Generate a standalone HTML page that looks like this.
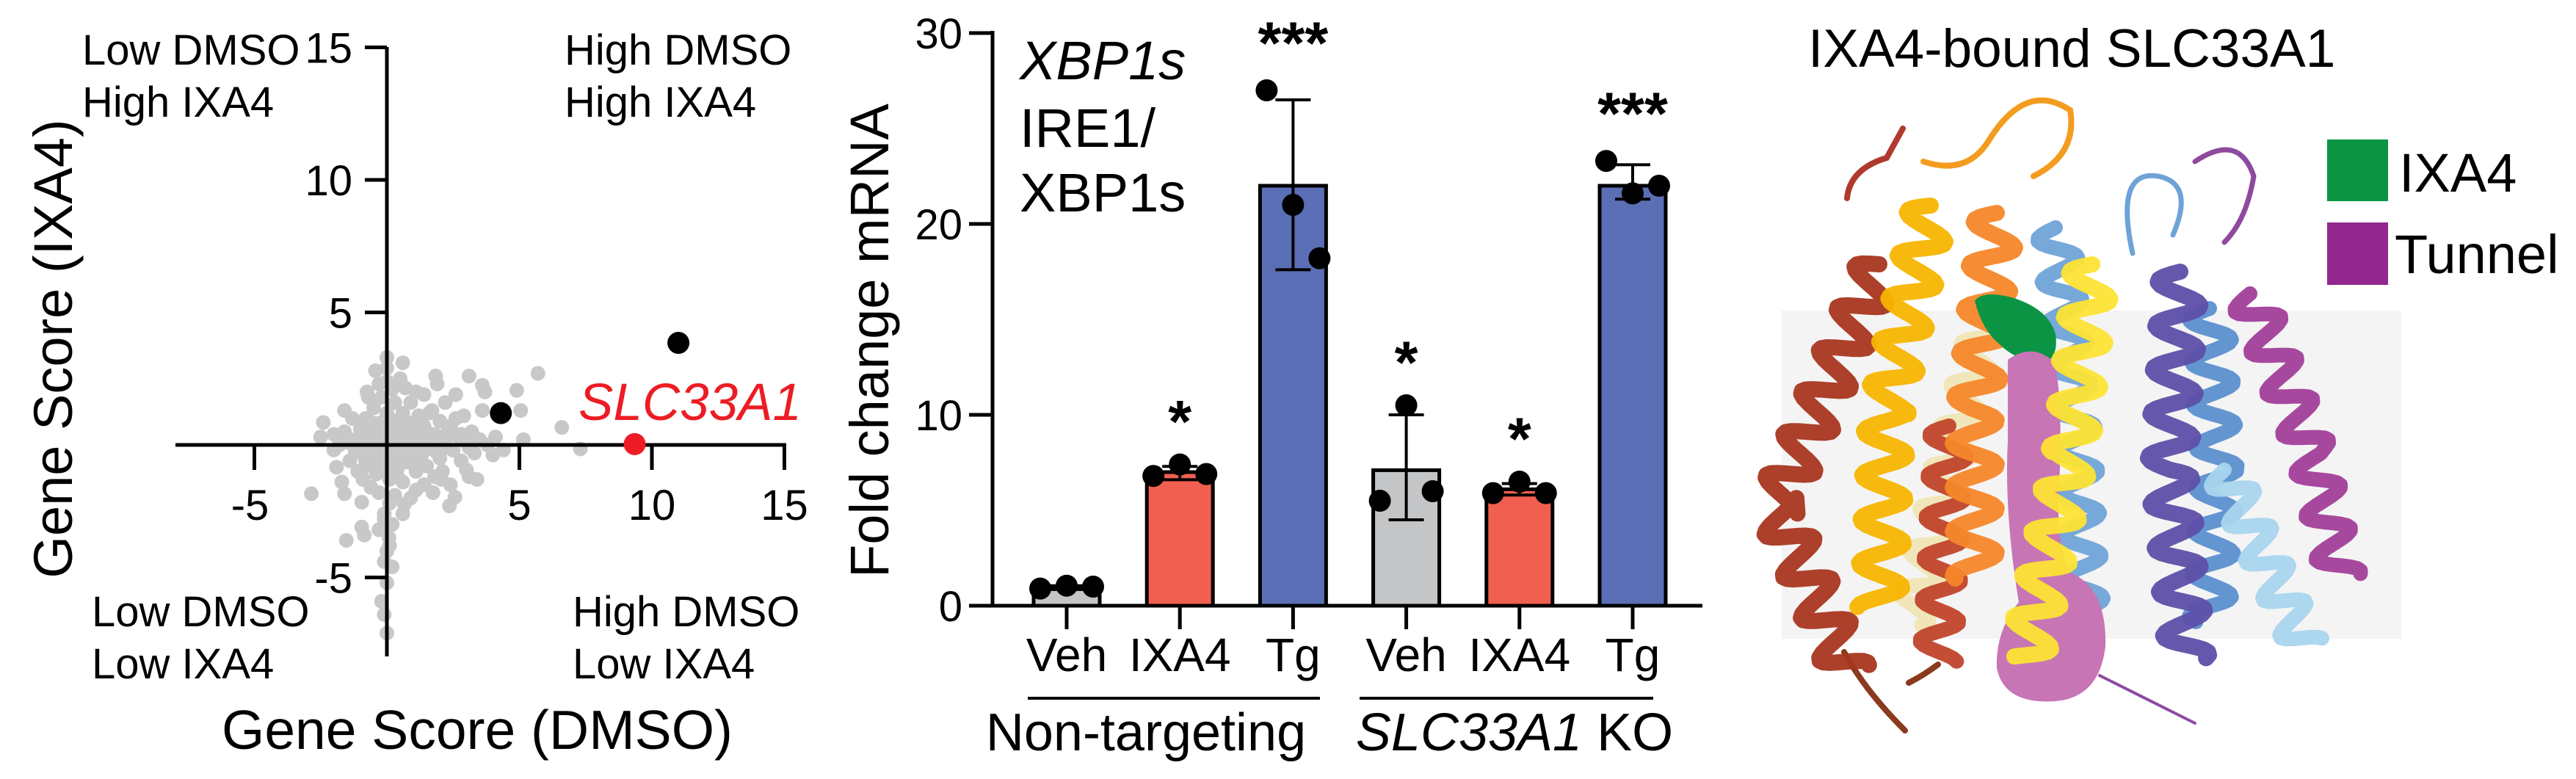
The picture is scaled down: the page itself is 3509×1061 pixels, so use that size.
<!DOCTYPE html>
<html><head><meta charset="utf-8"><style>
html,body{margin:0;padding:0;background:#fff;}
svg{display:block;font-family:"Liberation Sans",sans-serif;}
</style></head><body>
<svg id="fig" width="3509" height="1061" viewBox="0 0 3509 1061" xmlns="http://www.w3.org/2000/svg">
<g id="scatter"></g>
<g id="bars"></g>
<g id="protein"></g>
</svg>
<script>
// ---------- Scatter data ----------
const greyDmso = [-1.2,-1.0,-1.0,-0.8,-0.8,-0.6,-0.6,-0.5,-0.4,-0.4,-0.3,-0.2,-0.2,-0.1,0,0,0,0.1,0.2,0.2,0.3,0.3,0.4,0.4,0.5,0.5,0.6,0.6,0.7,0.8,0.8,0.9,1.0,1.0,1.1,1.2,1.3,1.3,1.4,1.5,1.6,1.7,1.8,1.9,2.0,2.1,2.2,2.3,2.5,2.6,2.7,2.8,3.0,3.2,3.3,3.5,3.8,4.1,-1.4,-1.6,-1.8,-2.0,-1.3,-0.9,-0.3,0.1,0.3,-0.1,0.2,-0.3,0.1,-0.1,0.2,0.6,0.9,1.4,1.8,2.4,-0.6,-1.1,0.0,0.2,-0.3,0.5,1.1,1.4,2.2,2.9,-0.7,0.7,1.5,-0.5,0.0,0.3,0.9,-0.2,1.2,2.0,
0,0.6,-0.43,1.84,3.1,5.7,3.6,3.7,4.9,1.9,-0.75,0.7,2.6,3.6,5.05,-1.6,-2.4,6.6,7.3,5.15,-2.5,-2.85,-1.7,-1.6,-0.95,-1.53,-0.95,-0.85,-0.1,0,0.08,0,-0.2,-0.1,0,0.66,1.1,1.74,2.36,2.57,3.1,3.4,4.0,4.4,3.0,2.05,-1.9,-2.0,
-0.9,-0.7,-0.5,-0.3,-0.1,0.1,0.3,0.5,0.7,0.9,1.1,1.3,1.5,1.7,-0.9,-0.7,-0.5,-0.3,-0.1,0.1,0.3,0.5,0.7,0.9,1.1,1.3,1.5,1.7,1.9,2.1,-0.8,-0.6,-0.4,-0.2,0.0,0.2,0.4,0.6,0.8,1.0,1.2,-0.6,-0.2,0.2,0.6,1.0,1.6,2.4,2.8,3.1,-1.5,-1.2,0.1,0.4];
const greyIxa4 = [0.2,0.6,-0.3,1.0,-0.8,0.3,-0.4,1.4,0.8,-1.1,0.1,-0.6,1.8,0.5,-0.2,1.2,2.4,-1.3,0.3,-0.5,0.9,1.6,-0.9,0.0,0.6,-0.3,1.2,-1.4,0.2,-0.6,0.8,1.6,-0.1,0.4,-1.0,1.1,-0.4,0.2,0.7,-0.8,0.0,1.3,0.4,-0.3,0.9,-1.0,0.1,0.5,-0.2,1.0,0.3,-0.6,0.1,0.5,-0.3,0.2,0.0,0.3,-0.6,0.5,0.0,0.4,1.0,-1.3,-1.8,-2.2,-1.9,-2.6,-3.0,-3.2,-3.8,-4.4,-4.6,-2.6,-2.0,-1.5,-1.2,-1.5,-1.6,-1.0,2.9,2.1,2.3,2.5,2.0,1.9,1.6,1.1,1.8,-0.1,0.5,-0.1,0.0,0.4,-0.4,0.3,-0.7,-0.5,
3.3,3.1,2.8,2.6,2.6,2.7,2.25,2.0,2.06,2.3,2.0,2.15,1.9,1.3,1.3,1.3,0.85,0.66,-0.15,0.2,0.3,-1.84,-1.4,-1.84,-2.16,-3.6,-3.1,-3.4,-2.8,-4.0,-3.5,-5.2,-5.9,-6.4,-7.1,-2.25,-1.7,-1.8,-2.3,-1.97,-1.2,-1.3,-0.38,-0.19,-0.94,-1.3,-0.84,-0.19,
0.35,0.35,0.35,0.35,0.35,0.35,0.35,0.35,0.35,0.35,0.35,0.35,0.35,0.35,-0.15,-0.15,-0.15,-0.15,-0.15,-0.15,-0.15,-0.15,-0.15,-0.15,-0.15,-0.15,-0.15,-0.15,-0.15,-0.15,-0.65,-0.65,-0.65,-0.65,-0.65,-0.65,-0.65,-0.65,-0.65,-0.65,-0.65,0.85,0.85,0.85,0.85,0.85,1.2,0.7,0.4,-0.1,0.1,-0.2,-1.0,-1.2];
const hitDmso = [11.0, 4.3];
const hitIxa4 = [3.85, 1.2];
const geneDmso = [9.35];
const geneIxa4 = [0.03];
const sxTicks = [-5, 5, 10, 15];
const syTicks = [15, 10, 5, -5];

// ---------- Bar data ----------
const categories = ["Veh","IXA4","Tg","Veh","IXA4","Tg"];
const barMeans = [1.0, 7.0, 22.0, 7.1, 6.1, 22.0];
const errLow = [0.85, 6.6, 17.6, 4.5, 5.8, 21.3];
const errHigh = [1.05, 7.3, 26.5, 10.0, 6.4, 23.1];
const rep1 = [0.9, 6.8, 27.0, 5.5, 5.9, 23.3];
const rep2 = [1.05, 7.4, 21.0, 10.5, 6.5, 21.6];
const rep3 = [1.0, 6.9, 18.2, 6.0, 5.9, 22.0];
const stars = ["", "*", "***", "*", "*", "***"];
const barTicks = [0, 10, 20, 30];

const NS = "http://www.w3.org/2000/svg";
function mk(parent, tag, attrs, text){
  const e = document.createElementNS(NS, tag);
  for (const k in attrs) e.setAttribute(k, attrs[k]);
  if (text !== undefined) e.textContent = text;
  parent.appendChild(e);
  return e;
}

// ===== Scatter =====
(function(){
  const g = document.getElementById('scatter');
  const x0 = 527, y0 = 606, ux = 36.1, uy = 36.1;
  const sx = v => x0 + v*ux, sy = v => y0 - v*uy;
  for (let i=0;i<greyDmso.length;i++){
    const c = mk(g,'circle',{cx:sx(greyDmso[i]),cy:sy(greyIxa4[i]),r:10,fill:'#c8c8c8'});
    
    
  }
  const ax = mk(g,'line',{x1:527,y1:64,x2:527,y2:894,stroke:'#000','stroke-width':5});
   
  const ax2 = mk(g,'line',{x1:239,y1:606,x2:1071,y2:606,stroke:'#000','stroke-width':5});
   
  sxTicks.forEach(t=>{
    mk(g,'line',{x1:sx(t),y1:606,x2:sx(t),y2:640,stroke:'#000','stroke-width':5});
    const tl = mk(g,'text',{x:sx(t)+(t<0?-6:0),y:708,'font-size':58,'text-anchor':'middle'},String(t));
     
  });
  syTicks.forEach(t=>{
    mk(g,'line',{x1:497,y1:sy(t),x2:527,y2:sy(t),stroke:'#000','stroke-width':5});
    const tl = mk(g,'text',{x:480,y:sy(t)+21,'font-size':58,'text-anchor':'end'},String(t));
     
  });
  for (let i=0;i<hitDmso.length;i++){
    const c = mk(g,'circle',{cx:sx(hitDmso[i]),cy:sy(hitIxa4[i]),r:15,fill:'#000'});
     
  }
  for (let i=0;i<geneDmso.length;i++){
    const c = mk(g,'circle',{cx:sx(geneDmso[i]),cy:sy(geneIxa4[i]),r:15,fill:'#ed1c24'});
     
  }
  const lab = mk(g,'text',{x:788,y:572,'font-size':71,'font-style':'italic',fill:'#ed1c24'},'SLC33A1');
   
  const q = [[112,88,'Low DMSO'],[112,159,'High IXA4'],[769,88,'High DMSO'],[769,159,'High IXA4'],
             [125,853,'Low DMSO'],[125,924,'Low IXA4'],[780,853,'High DMSO'],[780,924,'Low IXA4']];
  q.forEach(a=>{
    const t = mk(g,'text',{x:a[0],y:a[1],'font-size':58},a[2]);
     
  });
  const xt = mk(g,'text',{x:650,y:1020,'font-size':75,'text-anchor':'middle'},'Gene Score (DMSO)');
   
  const yt = mk(g,'text',{x:0,y:0,'font-size':74,'text-anchor':'middle',transform:'translate(98,475) rotate(-90)'},'Gene Score (IXA4)');
   
})();

// ===== Bars =====
(function(){
  const g = document.getElementById('bars');
  const y0 = 825, uy = 26.0;
  const sy = v => y0 - v*uy;
  const sx = i => 1453 + i*154.2;
  const colors = ['#c4c5c7','#f05f4f','#5a6fb5','#c4c5c7','#f05f4f','#5a6fb5'];
  const bw = 90;
  categories.forEach((c,i)=>{
    const b = mk(g,'rect',{x:sx(i)-bw/2,y:sy(barMeans[i]),width:bw,height:y0-sy(barMeans[i]),fill:colors[i],stroke:'#000','stroke-width':5});
    
    
  });
  categories.forEach((c,i)=>{
    const x = sx(i);
    mk(g,'line',{x1:x,y1:sy(errLow[i]),x2:x,y2:sy(errHigh[i]),stroke:'#000','stroke-width':4});
    mk(g,'line',{x1:x-24,y1:sy(errLow[i]),x2:x+24,y2:sy(errLow[i]),stroke:'#000','stroke-width':4});
    mk(g,'line',{x1:x-24,y1:sy(errHigh[i]),x2:x+24,y2:sy(errHigh[i]),stroke:'#000','stroke-width':4});
    [[rep1,-36],[rep2,0],[rep3,36]].forEach(r=>{
      const d = mk(g,'circle',{cx:x+r[1],cy:sy(r[0][i]),r:15,fill:'#000'});
       
    });
    if (stars[i]){
      const top = Math.max(errHigh[i], rep1[i], rep2[i], rep3[i]);
      const s = mk(g,'text',{x:x,y:sy(top)-30+(stars[i].length>1?-6:0),'font-size':82,'font-weight':'bold','text-anchor':'middle'},stars[i]);
       
    }
    mk(g,'line',{x1:x,y1:825,x2:x,y2:857,stroke:'#000','stroke-width':5});
    const l = mk(g,'text',{x:x,y:914,'font-size':64,'text-anchor':'middle'},c);
     
  });
  const ya = mk(g,'line',{x1:1352,y1:42,x2:1352,y2:827,stroke:'#000','stroke-width':5});
   
  const xa = mk(g,'line',{x1:1320,y1:825,x2:2319,y2:825,stroke:'#000','stroke-width':5});
   
  barTicks.forEach(t=>{
    mk(g,'line',{x1:1320,y1:sy(t),x2:1352,y2:sy(t),stroke:'#000','stroke-width':5});
    const tl = mk(g,'text',{x:1311,y:sy(t)+21,'font-size':58,'text-anchor':'end'},String(t));
     
  });
  const yt = mk(g,'text',{x:0,y:0,'font-size':74,'text-anchor':'middle',transform:'translate(1210,464) rotate(-90)'},'Fold change mRNA');
   
  const t1 = mk(g,'text',{x:1389,y:108,'font-size':74,'font-style':'italic'},'XBP1s');
   
  const t2 = mk(g,'text',{x:1389,y:200,'font-size':74},'IRE1/');
   
  const t3 = mk(g,'text',{x:1389,y:288,'font-size':74},'XBP1s');
   
  mk(g,'line',{x1:1400,y1:951,x2:1798,y2:951,stroke:'#000','stroke-width':4});
  mk(g,'line',{x1:1852,y1:951,x2:2252,y2:951,stroke:'#000','stroke-width':4});
  const n1 = mk(g,'text',{x:1561,y:1022,'font-size':72,'text-anchor':'middle'},'Non-targeting');
   
  const n2 = mk(g,'text',{x:2063,y:1022,'font-size':72,'text-anchor':'middle'});
   
  mk(n2,'tspan',{'font-style':'italic'},'SLC33A1');
  mk(n2,'tspan',{},' KO');
})();

// ===== Protein illustration =====
(function(){
  const g = document.getElementById('protein');
  const bg = mk(g,'rect',{x:2427,y:423,width:844,height:447,fill:'#f4f4f4'});
   
  function helix(pts, amp, per, color, w){
    let d = '';
    let acc = 0;
    for (let s=0;s<pts.length-1;s++){
      const [x1,y1]=pts[s],[x2,y2]=pts[s+1];
      const L = Math.hypot(x2-x1,y2-y1), nx=-(y2-y1)/L, ny=(x2-x1)/L;
      for (let t=0;t<=L;t+=4){
        const ph = Math.sin(2*Math.PI*(acc+t)/per)*amp;
        const x = x1+(x2-x1)*t/L+nx*ph, y=y1+(y2-y1)*t/L+ny*ph;
        d += (d?'L':'M')+x.toFixed(1)+' '+y.toFixed(1);
      }
      acc += L;
    }
    const p = mk(g,'path',{d:d,fill:'none',stroke:color,'stroke-width':w,'stroke-linecap':'round','stroke-linejoin':'round',opacity:0.95});
     
  }
  function loop(d,color,w){
    const p = mk(g,'path',{d:d,fill:'none',stroke:color,'stroke-width':w,'stroke-linecap':'round'});
     
  }
  loop('M2512 888 Q2540 940 2595 995','#8b3a1e',8);
  loop('M2600 930 Q2620 920 2640 905','#8b3a1e',8);
  loop('M2516 270 Q2520 230 2570 215 L2592 175','#b03a2e',8);
  loop('M2620 220 Q2680 240 2710 190 Q2760 110 2820 150 Q2830 210 2770 240','#f39c1f',8);
  loop('M2905 345 Q2880 230 2940 240 Q2990 250 2960 320','#6fa3d8',7);
  loop('M2990 220 Q3050 180 3070 240 Q3060 300 3030 330','#8e4a9e',7);
  loop('M2860 920 L2990 985','#8e4a9e',4);
  helix([[2560,360],[2420,690],[2520,920]],30,62,'#a8361f',22);
  helix([[2700,460],[2640,700],[2600,850]],26,58,'#efe5b5',20);
  helix([[2630,280],[2570,560],[2560,830]],30,60,'#f7b500',22);
  helix([[2655,580],[2640,900]],26,56,'#c0452a',20);
  helix([[2720,290],[2690,560],[2690,790]],30,60,'#f5872a',22);
  helix([[2800,310],[2830,600],[2840,840]],26,58,'#6fa3d8',20);
  helix([[3010,420],[3020,640],[3010,850]],28,58,'#5b8fcf',20);
  helix([[3030,640],[3140,880]],26,56,'#a9d4ee',20);
  helix([[3065,400],[3150,620],[3190,790]],28,60,'#a23e9a',20);
  const lig = mk(g,'path',{d:'M2690 410 Q2700 395 2740 405 Q2790 420 2800 455 Q2805 490 2780 495 Q2745 490 2725 470 Q2700 450 2690 410 Z',fill:'#0b9444'});
   
  const tun = mk(g,'path',{d:'M2735 490 Q2770 465 2800 495 Q2810 560 2805 660 Q2800 740 2820 780 Q2870 800 2868 880 Q2860 950 2800 955 Q2730 960 2720 910 Q2718 860 2750 820 Q2730 700 2735 600 Z',fill:'#c775b4'});
   
  helix([[2850,360],[2820,620],[2760,900]],30,60,'#fde334',22);
  helix([[2970,370],[2955,640],[2980,900]],30,60,'#5d4fa8',22);
  const title = mk(g,'text',{x:2463,y:91,'font-size':73},'IXA4-bound SLC33A1');
   
  const s1 = mk(g,'rect',{x:3170,y:190,width:83,height:84,fill:'#0b9444'});
   
  const s2 = mk(g,'rect',{x:3170,y:303,width:83,height:85,fill:'#92278f'});
   
  const l1 = mk(g,'text',{x:3268,y:261,'font-size':74},'IXA4');
   
  const l2 = mk(g,'text',{x:3262,y:372,'font-size':74},'Tunnel');
   
})();
</script>
</body></html>
